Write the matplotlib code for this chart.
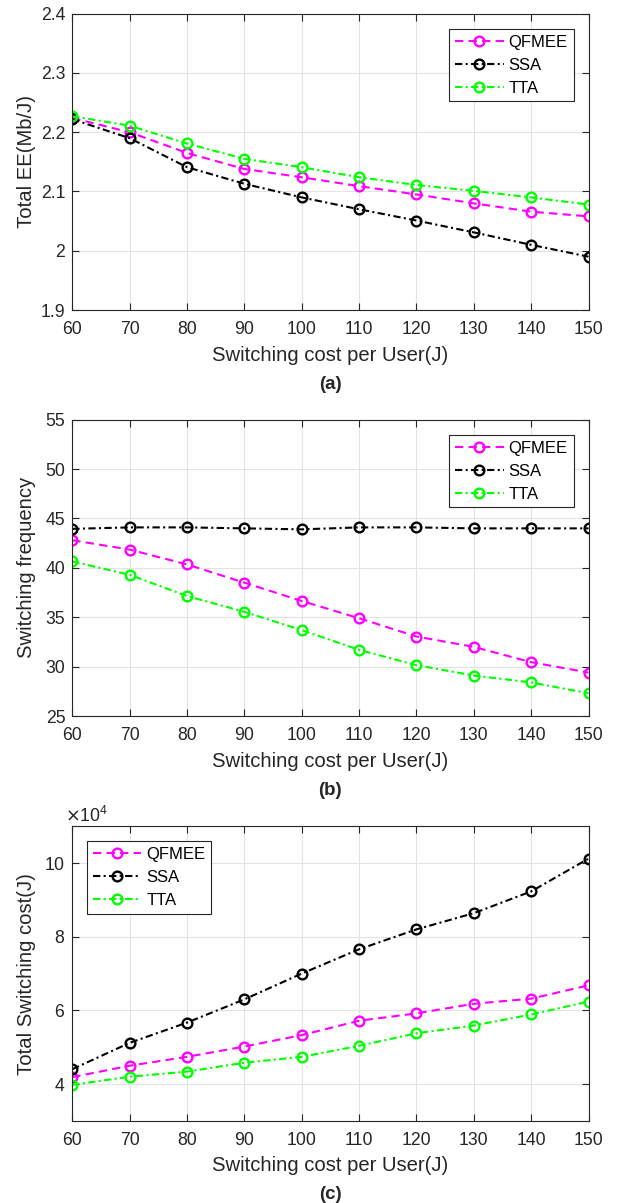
import matplotlib
matplotlib.use("Agg")
import matplotlib.pyplot as plt
from matplotlib.ticker import ScalarFormatter, FuncFormatter

plt.rcParams['font.family'] = ['Liberation Sans', 'DejaVu Sans']

cost_per_user = [60, 70, 80, 90, 100, 110, 120, 130, 140, 150]

# (a) total energy efficiency, Mb/J
ee_qfmee = [2.224, 2.200, 2.165, 2.138, 2.124, 2.109, 2.095, 2.080, 2.066, 2.058]
ee_ssa = [2.222, 2.190, 2.141, 2.113, 2.090, 2.070, 2.051, 2.031, 2.010, 1.990]
ee_tta = [2.227, 2.211, 2.181, 2.155, 2.141, 2.124, 2.111, 2.101, 2.090, 2.078]

# (b) switching frequency
freq_qfmee = [42.8, 41.85, 40.35, 38.5, 36.65, 34.9, 33.05, 32.0, 30.45, 29.4]
freq_ssa = [43.95, 44.1, 44.1, 44.0, 43.9, 44.1, 44.1, 44.0, 44.0, 44.0]
freq_tta = [40.65, 39.3, 37.15, 35.55, 33.7, 31.7, 30.15, 29.1, 28.4, 27.3]

# (c) total switching cost, J
tc_qfmee = [41900, 45000, 47400, 50200, 53300, 57200, 59200, 61800, 63200, 66800]
tc_ssa = [44050, 51200, 56700, 63000, 70000, 76600, 82000, 86400, 92300, 101200]
tc_tta = [39800, 42000, 43400, 45800, 47400, 50400, 53800, 55900, 58900, 62400]

series_names = ['QFMEE', 'SSA', 'TTA']
colors = ['#ff00ff', 'black', '#00ff00']
dash_styles = [(0, (4, 2.5)), (0, (3.5, 1.6, 1, 1.6)), (0, (3.5, 1.6, 1, 1.6))]

txt = '#262626'
fig = plt.figure(figsize=(6.18, 12.03), dpi=100)

# (values, ylabel, ylim, yticks, tag, axes bottom, axes height, legend loc)
panels = [
    ([ee_qfmee, ee_ssa, ee_tta], 'Total EE(Mb/J)', (1.9, 2.4), [1.9, 2.0, 2.1, 2.2, 2.3, 2.4], '(a)', 0.7423, 0.2463, 'upper right'),
    ([freq_qfmee, freq_ssa, freq_tta], 'Switching frequency', (25, 55), [25, 30, 35, 40, 45, 50, 55], '(b)', 0.4048, 0.2463, 'upper right'),
    ([tc_qfmee, tc_ssa, tc_tta], 'Total Switching cost(J)', (30000, 110000), [40000, 60000, 80000, 100000], '(c)', 0.0682, 0.2450, 'upper left'),
]

for data, ylabel, ylim, yticks, tag, bottom, height, loc in panels:
    ax = fig.add_axes([0.117, bottom, 0.8353, height])
    for vals, name, c, ls in zip(data, series_names, colors, dash_styles):
        ax.plot(cost_per_user, vals, linestyle=ls, color=c, marker='o', markersize=7,
                markerfacecolor='none', markeredgewidth=1.7, linewidth=1.5, label=name)
    ax.set_xlim(60, 150)
    ax.set_xticks(cost_per_user)
    ax.set_ylim(*ylim)
    ax.set_yticks(yticks)
    ax.grid(True, color='#e3e3e3', linewidth=0.8)
    ax.set_axisbelow(True)
    ax.tick_params(direction='in', top=True, right=True, labelsize=12.7, colors=txt, length=5, width=0.8)
    ax.tick_params(axis='x', pad=8)
    ax.tick_params(axis='y', pad=5)
    for sp in ax.spines.values():
        sp.set_color(txt)
        sp.set_linewidth(0.8)
    ax_h_px = height * 1203
    ax.set_ylabel(ylabel, fontsize=14.6, color=txt)
    ax.yaxis.set_label_coords(-0.070, 0.5)
    ax.set_xlabel('Switching cost per User(J)', fontsize=14.6, color=txt)
    ax.xaxis.set_label_coords(0.5, -35.5 / ax_h_px)
    ax.text(0.5, -74 / ax_h_px, tag, transform=ax.transAxes, ha='center', va='center',
            fontsize=13.5, fontweight='bold', color=txt)
    leg = ax.legend(loc=loc, fontsize=12, frameon=True, fancybox=False, framealpha=1,
                    edgecolor=txt, handlelength=2.9, handletextpad=0.3, borderpad=0.35,
                    borderaxespad=0.9, labelspacing=0.48)
    leg.get_frame().set_linewidth(0.8)
    if tag == '(c)':
        fmt = ScalarFormatter(useMathText=True)
        fmt.set_powerlimits((4, 4))
        ax.yaxis.set_major_formatter(fmt)
        off = ax.yaxis.get_offset_text()
        off.set_fontsize(12.7)
        off.set_color(txt)
        off.set_x(-0.014)
    else:
        ax.yaxis.set_major_formatter(FuncFormatter(lambda v, p: '%g' % round(v, 6)))

fig.savefig('out.png', dpi=100, facecolor='white')
